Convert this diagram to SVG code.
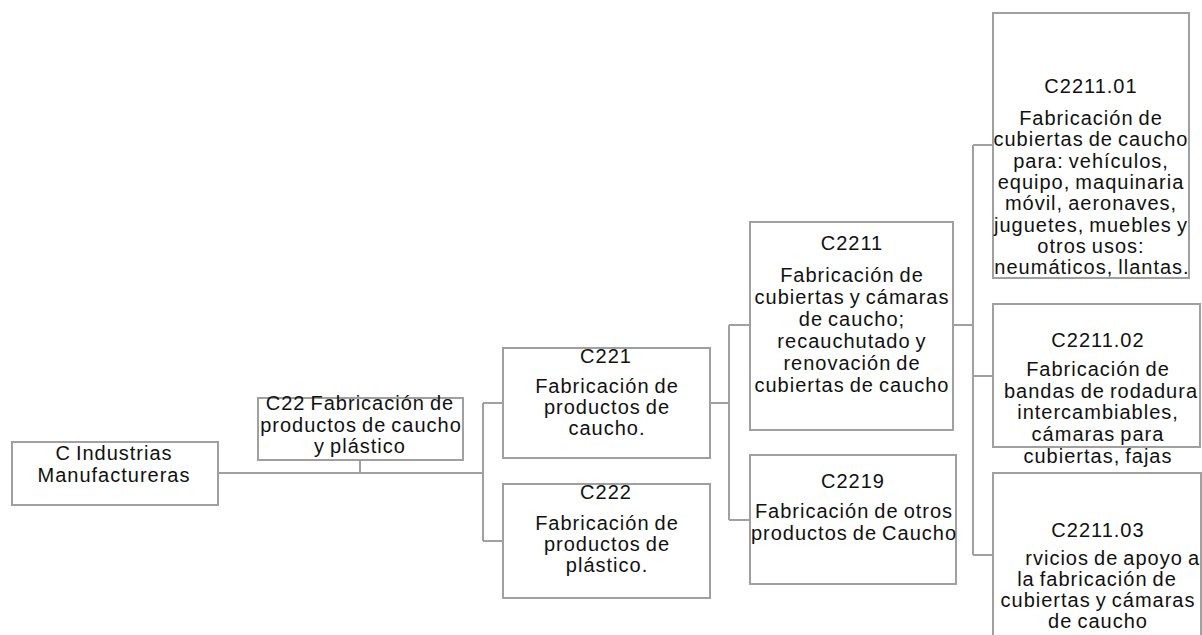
<svg xmlns="http://www.w3.org/2000/svg" width="1202" height="635" viewBox="0 0 1202 635">
<style>
.box{fill:#fff;stroke:#a0a0a0;stroke-width:2}
.ln{fill:none;stroke:#a0a0a0;stroke-width:2}
text{font-family:"Liberation Sans",Arial,sans-serif;font-size:20px;fill:#111;text-anchor:middle;letter-spacing:1px;word-spacing:-1.5px}
</style>
<rect width="1202" height="635" fill="#fff"/>
<g id="connectors">
<path class="ln" d="M218,473H483M360,460V473M483,403V541M483,403H503M483,541H503"/>
<path class="ln" d="M710,403H729M729,325V520M729,325H750M729,520H750"/>
<path class="ln" d="M953,325H973M973,145V555M973,145H993M973,376H993M973,555H993"/>
</g>
<g id="C">
<rect class="box" x="12" y="442" width="206" height="63"/>
<text x="114" y="460">C Industrias</text>
<text x="114" y="481.7">Manufactureras</text>
</g>
<g id="C22">
<rect class="box" x="258" y="398" width="205" height="62"/>
<text x="360" y="410">C22 Fabricación de</text>
<text x="361" y="431.7">productos de caucho</text>
<text x="360" y="452.7">y plástico</text>
</g>
<g id="C221">
<rect class="box" x="503" y="348" width="207" height="110"/>
<text x="606" y="363.3">C221</text>
<text x="607" y="393.3">Fabricación de</text>
<text x="607" y="414.3">productos de</text>
<text x="607" y="435.3">caucho.</text>
</g>
<g id="C222">
<rect class="box" x="503" y="484" width="207" height="114"/>
<text x="606" y="499.3">C222</text>
<text x="607" y="530">Fabricación de</text>
<text x="607" y="551">productos de</text>
<text x="607" y="572">plástico.</text>
</g>
<g id="C2211">
<rect class="box" x="750" y="222" width="203" height="208"/>
<text x="852" y="250">C2211</text>
<text x="852" y="282">Fabricación de</text>
<text x="852" y="304">cubiertas y cámaras</text>
<text x="852" y="326">de caucho;</text>
<text x="852" y="348">recauchutado y</text>
<text x="852" y="370">renovación de</text>
<text x="852" y="392">cubiertas de caucho</text>
</g>
<g id="C2219">
<rect class="box" x="750" y="455" width="206" height="129"/>
<text x="853" y="488.3">C2219</text>
<text x="854" y="518.3">Fabricación de otros</text>
<text x="854" y="540">productos de Caucho</text>
</g>
<g id="C2211.01">
<rect class="box" x="993" y="13" width="196" height="265"/>
<text x="1091" y="92.7">C2211.01</text>
<text x="1091" y="125">Fabricación de</text>
<text x="1091" y="146.3">cubiertas de caucho</text>
<text x="1091" y="167.6">para: vehículos,</text>
<text x="1091" y="188.9">equipo, maquinaria</text>
<text x="1091" y="210.2">móvil, aeronaves,</text>
<text x="1091" y="231.5">juguetes, muebles y</text>
<text x="1091" y="252.8">otros usos:</text>
<text x="1092" y="274.1">neumáticos, llantas.</text>
</g>
<g id="C2211.02">
<rect class="box" x="993" y="304" width="207" height="143"/>
<text x="1098" y="346.7">C2211.02</text>
<text x="1098" y="376">Fabricación de</text>
<text x="1101" y="397.7">bandas de rodadura</text>
<text x="1098" y="419.4">intercambiables,</text>
<text x="1098" y="441.1">cámaras para</text>
<text x="1098" y="462.8">cubiertas, fajas</text>
</g>
<g id="C2211.03">
<rect class="box" x="993" y="473" width="208" height="175"/>
<text x="1098" y="536.7">C2211.03</text>
<text x="1200" y="565" style="text-anchor:end">rvicios de apoyo a</text>
<text x="1097" y="586">la fabricación de</text>
<text x="1098" y="607.3">cubiertas y cámaras</text>
<text x="1098" y="628.3">de caucho</text>
</g>
</svg>
